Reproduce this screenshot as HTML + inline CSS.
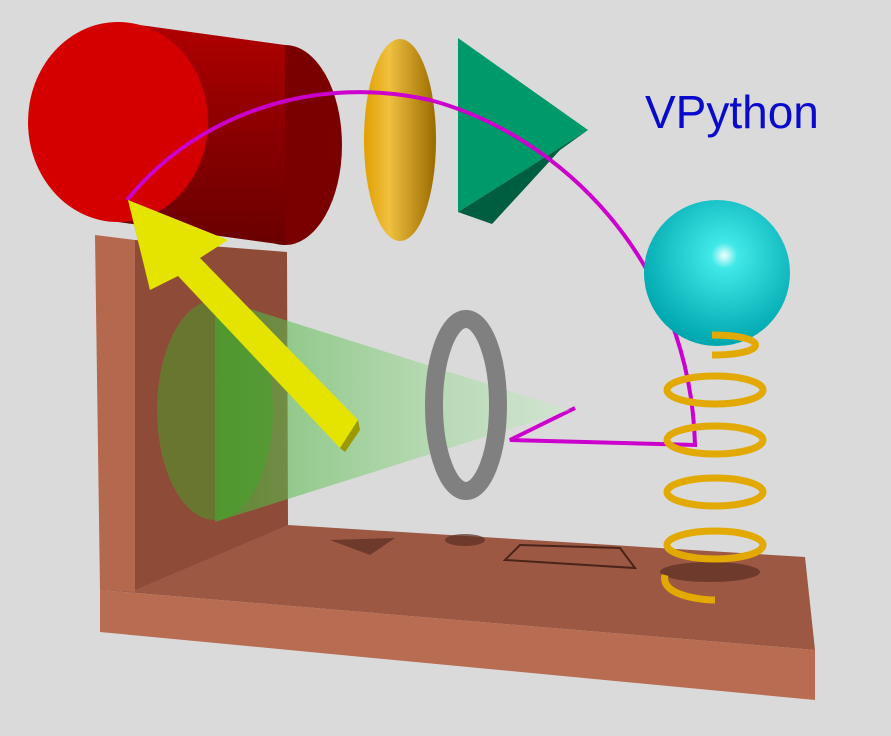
<!DOCTYPE html>
<html><head><meta charset="utf-8"><style>
html,body{margin:0;padding:0;background:#dadada;}
svg{display:block;}
</style></head><body>
<svg width="891" height="736" viewBox="0 0 891 736">
<defs>
<linearGradient id="cylBody" x1="0" y1="0" x2="0" y2="1">
<stop offset="0" stop-color="#b00000"/><stop offset="0.5" stop-color="#8a0000"/><stop offset="1" stop-color="#6a0000"/></linearGradient>
<linearGradient id="gold" x1="0" y1="0" x2="1" y2="0">
<stop offset="0" stop-color="#e0a000"/><stop offset="0.35" stop-color="#f0c040"/><stop offset="1" stop-color="#9a6a00"/></linearGradient>
<radialGradient id="cyan" cx="0.55" cy="0.38" r="0.6">
<stop offset="0" stop-color="#f0ffff"/><stop offset="0.15" stop-color="#40e8e8"/><stop offset="1" stop-color="#00a8b0"/></radialGradient>
<linearGradient id="cone" x1="0" y1="0" x2="1" y2="0">
<stop offset="0" stop-color="#40b030" stop-opacity="0.6"/><stop offset="1" stop-color="#c8f0c8" stop-opacity="0.45"/></linearGradient>
</defs>
<rect width="891" height="736" fill="#dadada"/>
<g>
<polygon points="100,590 288,525 805,557 815,650" fill="#9c5843"/>
<polygon points="100,590 815,650 815,700 100,632" fill="#b86c52"/>
<polygon points="135,240 287,252 288,525 135,590" fill="#8e4c38"/>
<polygon points="95,235 135,240 135,592 100,590" fill="#b4684e"/>
<polygon points="330,540 395,538 370,555" fill="#5a2e22" opacity="0.7"/>
<polygon points="520,545 620,548 635,568 505,560" fill="none" stroke="#4a2418" stroke-width="2"/>
<ellipse cx="465" cy="540" rx="20" ry="6" fill="#5a2e22" opacity="0.7"/>
<ellipse cx="710" cy="572" rx="50" ry="10" fill="#5a2e22" opacity="0.7"/>
</g>
<g>
<ellipse cx="285" cy="145" rx="57" ry="100" fill="#7a0000"/>
<polygon points="118,22 285,45 285,245 118,222" fill="url(#cylBody)"/>
<ellipse cx="118" cy="122" rx="90" ry="100" fill="#d40000"/>
</g>
<ellipse cx="400" cy="140" rx="36" ry="101" fill="url(#gold)"/>
<g>
<polygon points="458,38 588,130 458,212" fill="#00996a"/>
<polygon points="458,212 588,130 560,150 492,224" fill="#005e40"/>
</g>
<path d="M127,200 C200,110 320,75 430,100 C560,135 690,260 695,445 L510,440 L575,408" fill="none" stroke="#cc00cc" stroke-width="4"/>
<circle cx="717" cy="273" r="73" fill="url(#cyan)"/>
<g fill="none" stroke="#e2aa00" stroke-width="7">
<path d="M712,335 C770,335 770,355 712,355"/>
<ellipse cx="715" cy="390" rx="48" ry="14"/>
<ellipse cx="715" cy="440" rx="48" ry="14"/>
<ellipse cx="715" cy="492" rx="48" ry="14"/>
<ellipse cx="715" cy="545" rx="48" ry="14"/>
<path d="M665,575 C660,595 700,600 715,600"/>
</g>
<g>
<polygon points="215,298 570,410 215,522" fill="url(#cone)"/>
<ellipse cx="215" cy="410" rx="58" ry="110" fill="#3caa28" opacity="0.45"/>
</g>
<g>
<polygon points="128,200 150,290 162,282 140,205" fill="#8a8a00"/>
<polygon points="128,200 228,240 200,258 358,420 340,448 178,276 150,290" fill="#e4e400"/>
<polygon points="340,448 358,420 360,430 345,452" fill="#9a9a00"/>
</g>
<ellipse cx="466" cy="405" rx="32" ry="86" fill="none" stroke="#808080" stroke-width="18"/>
<text x="645" y="128" font-family="Liberation Sans, sans-serif" font-size="46" fill="#0a0acc">VPython</text>
</svg>
</body></html>
